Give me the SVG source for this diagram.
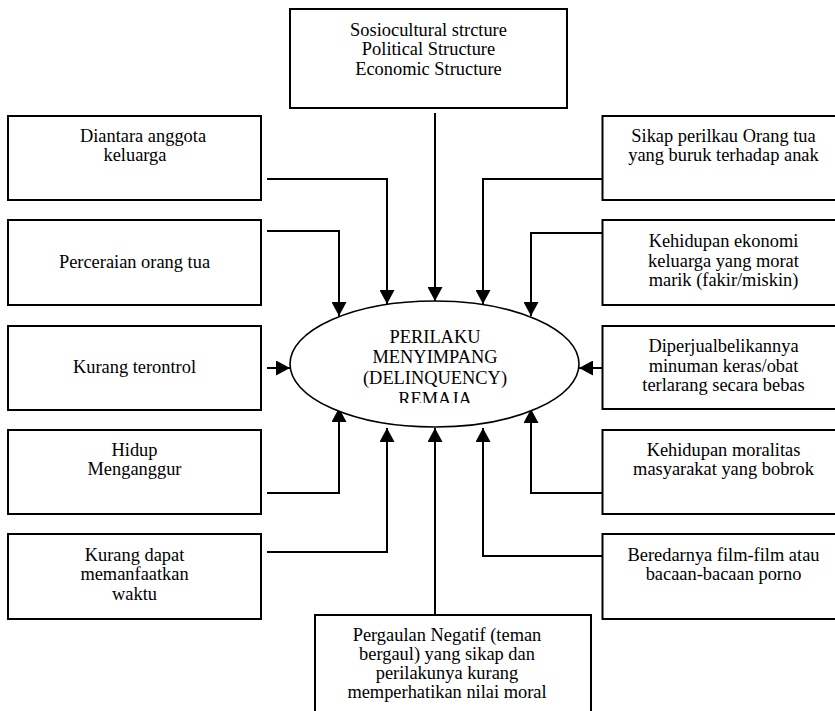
<svg xmlns="http://www.w3.org/2000/svg" width="835" height="711" viewBox="0 0 835 711">
<style>
.box{fill:#fff;stroke:#000;stroke-width:2}
.t{font-family:"Liberation Serif","Times New Roman",serif;font-size:18.4px;fill:#000;text-anchor:middle}
.c{fill:none;stroke:#000;stroke-width:2}
</style>
<defs>
<marker id="ah" markerUnits="userSpaceOnUse" markerWidth="15" markerHeight="15" refX="14" refY="7.5" orient="auto">
<path d="M0,0 L14,7.5 L0,15 z" fill="#000"/>
</marker>
<clipPath id="clipE"><rect x="280" y="290" width="310" height="113"/></clipPath>
</defs>
<rect width="835" height="711" fill="#fff"/>

<g id="connectors">
<path class="c" d="M435,113 V301" marker-end="url(#ah)"/>
<path class="c" d="M267,179 H387 V304" marker-end="url(#ah)"/>
<path class="c" d="M267,231 H339 V316" marker-end="url(#ah)"/>
<path class="c" d="M267,368 H290" marker-end="url(#ah)"/>
<path class="c" d="M267,493 H339 V408" marker-end="url(#ah)"/>
<path class="c" d="M267,552 H387 V428" marker-end="url(#ah)"/>
<path class="c" d="M602,179 H483 V304" marker-end="url(#ah)"/>
<path class="c" d="M602,233 H531 V316" marker-end="url(#ah)"/>
<path class="c" d="M602,368 H579" marker-end="url(#ah)"/>
<path class="c" d="M602,493 H531 V409" marker-end="url(#ah)"/>
<path class="c" d="M602,556 H483 V428" marker-end="url(#ah)"/>
<path class="c" d="M435,615 V428" marker-end="url(#ah)"/>
</g>

<g id="center">
<ellipse cx="434.5" cy="364" rx="144.5" ry="63" fill="#fff" stroke="#000" stroke-width="1.6"/>
<g clip-path="url(#clipE)">
<text class="t" x="435" y="343">PERILAKU</text>
<text class="t" x="435" y="363">MENYIMPANG</text>
<text class="t" x="435" y="384">(DELINQUENCY)</text>
<text class="t" x="435" y="405">REMAJA</text>
</g>
</g>

<g id="top">
<rect class="box" x="290" y="9" width="277" height="99"/>
<text class="t" x="428.5" y="36">Sosiocultural strcture</text>
<text class="t" x="428.5" y="55">Political Structure</text>
<text class="t" x="428.5" y="75">Economic Structure</text>
</g>

<g id="left1">
<rect class="box" x="8" y="116" width="253" height="84"/>
<text class="t" x="143" y="142">Diantara anggota</text>
<text class="t" x="135" y="161">keluarga</text>
</g>
<g id="left2">
<rect class="box" x="8" y="220" width="253" height="85"/>
<text class="t" x="134.5" y="268">Perceraian orang tua</text>
</g>
<g id="left3">
<rect class="box" x="8" y="326" width="253" height="84"/>
<text class="t" x="134.5" y="373">Kurang terontrol</text>
</g>
<g id="left4">
<rect class="box" x="8" y="430" width="253" height="84"/>
<text class="t" x="134.5" y="456">Hidup</text>
<text class="t" x="134.5" y="475">Menganggur</text>
</g>
<g id="left5">
<rect class="box" x="8" y="534" width="253" height="85"/>
<text class="t" x="134.5" y="561">Kurang dapat</text>
<text class="t" x="134.5" y="580">memanfaatkan</text>
<text class="t" x="134.5" y="600">waktu</text>
</g>

<g id="right1">
<rect class="box" x="602.5" y="116" width="250" height="84"/>
<text class="t" x="723.5" y="142">Sikap perilkau Orang tua</text>
<text class="t" x="723.5" y="161">yang buruk terhadap anak</text>
</g>
<g id="right2">
<rect class="box" x="602.5" y="220" width="250" height="85"/>
<text class="t" x="723.5" y="247">Kehidupan ekonomi</text>
<text class="t" x="723.5" y="267">keluarga yang morat</text>
<text class="t" x="723.5" y="286">marik (fakir/miskin)</text>
</g>
<g id="right3">
<rect class="box" x="602.5" y="326" width="250" height="83"/>
<text class="t" x="723.5" y="352">Diperjualbelikannya</text>
<text class="t" x="723.5" y="372">minuman keras/obat</text>
<text class="t" x="723.5" y="391">terlarang secara bebas</text>
</g>
<g id="right4">
<rect class="box" x="602.5" y="430" width="250" height="84"/>
<text class="t" x="723.5" y="456">Kehidupan moralitas</text>
<text class="t" x="723.5" y="475">masyarakat yang bobrok</text>
</g>
<g id="right5">
<rect class="box" x="602.5" y="534" width="250" height="85"/>
<text class="t" x="723.5" y="561">Beredarnya film-film atau</text>
<text class="t" x="723.5" y="580">bacaan-bacaan porno</text>
</g>

<g id="bottom">
<rect class="box" x="315" y="615" width="276" height="120"/>
<text class="t" x="447" y="641">Pergaulan Negatif (teman</text>
<text class="t" x="447" y="660">bergaul) yang sikap dan</text>
<text class="t" x="447" y="679">perilakunya kurang</text>
<text class="t" x="447" y="698">memperhatikan nilai moral</text>
</g>
</svg>
